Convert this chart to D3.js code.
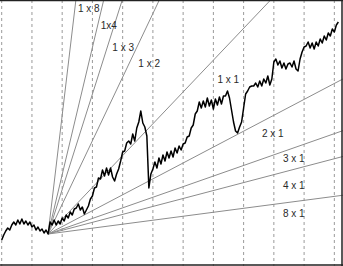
<!DOCTYPE html>
<html>
<head>
<style type="text/css">
	body{ margin:0; background:#fff; }
	#chart{ width:343px; height:266px; }
	.lbl{ font-family:"Liberation Sans", Arial, sans-serif; font-size:10px; fill:#2a2a2a; }
</style>
</head>
<body>
<div id="chart"></div>
<script src="https://cdn.jsdelivr.net/npm/d3@7"></script>
<script>
	// closing prices, one per bar
	var price = [
		2.6, 3.1, 3.5, 3.8, 3.6, 4.1, 4.4, 4.1, 4.6, 4.2, 4.7, 4.2, 4.5, 4.1, 4.4, 3.9, 4.1, 3.6, 3.9, 3.5, 3.7, 3.3, 3.6, 3.2,
		4.4, 4.1, 4.6, 4.1, 4.5, 4.2, 4.8, 4.5, 5.1, 4.8, 5.4, 5.1, 5.7, 5.8, 6.2, 5.6, 5.9, 5.2, 5.6, 6.0, 6.7, 7.0, 7.8, 7.9,
		8.8, 8.7, 9.6, 9.0, 9.8, 9.1, 9.8, 8.9, 8.5, 9.2, 9.7, 10.5, 11.4, 11.5, 12.3, 12.5, 12.2, 13.2, 12.5, 13.8, 14.4, 15.5,
		14.3, 13.9, 13.0, 7.8, 9.2, 9.7, 10.4, 9.8, 10.8, 10.2, 11.1, 10.5, 11.4, 10.8, 11.5, 10.9, 11.8, 11.3, 12.0, 11.6,
		12.2, 12.3, 12.9, 13.0, 13.8, 14.1, 15.2, 15.5, 16.4, 15.8, 16.5, 15.9, 16.8, 16.0, 16.6, 15.7, 16.7, 16.1, 16.9, 16.2,
		17.0, 17.0, 17.5, 16.8, 15.6, 14.4, 13.5, 13.3, 13.9, 14.4, 15.8, 17.2, 17.5, 17.9, 18.0, 18.0, 18.3, 17.9, 18.5, 18.0,
		18.7, 18.3, 19.0, 18.1, 18.7, 20.4, 20.7, 20.1, 20.5, 19.8, 20.3, 19.7, 20.2, 20.3, 19.9, 20.5, 19.7, 19.5, 20.7, 21.4,
		21.9, 22.0, 22.4, 21.8, 22.3, 21.7, 22.4, 22.0, 22.7, 22.3, 23.0, 22.6, 23.3, 23.0, 23.7, 23.4, 24.1, 24.4
	];

	// gann fan
	var pivotBar = 23;
	var pivotPrice = 3.2;
	var fanUnit = 0.212;	// price per bar for 1 x 1
	var fanNames = ['1 x 8', '1x4', '1 x 3', '1 x 2', '1 x 1', '2 x 1', '3 x 1', '4 x 1', '8 x 1'];
	var fanRatios = [8, 4, 3, 2, 1, 1/2, 1/3, 1/4, 1/8];

	var gridBars = [0, 15, 30, 45, 60, 75, 90, 105, 120, 135, 150, 165];

	var W = 343, H = 266;

	var x = d3.scaleLinear().domain([0, 169]).range([1.7, 342.4]);
	var y = d3.scaleLinear().domain([0, 26.6]).range([H, 0]);

	var svg = d3.select('#chart').append('svg')
		.attr('width', W).attr('height', H);

	svg.append('clipPath').attr('id', 'clip')
		.append('rect').attr('x', 0).attr('y', 0).attr('width', W).attr('height', H);

	var g = svg.append('g').attr('clip-path', 'url(#clip)');

	g.selectAll('.grid')
		.data(gridBars)
		.enter().append('line')
		.attr('class', 'grid')
		.attr('x1', function(d){ return x(d); })
		.attr('x2', function(d){ return x(d); })
		.attr('y1', 0)
		.attr('y2', H)
		.style('stroke', '#9a9a9a')
		.style('stroke-width', 1)
		.style('stroke-dasharray', '3,3');

	var endBar = pivotBar + 400;
	g.selectAll('.fan')
		.data(fanRatios)
		.enter().append('line')
		.attr('class', 'fan')
		.attr('x1', x(pivotBar))
		.attr('y1', y(pivotPrice))
		.attr('x2', x(endBar))
		.attr('y2', function(r){ return y(pivotPrice + fanUnit * r * (endBar - pivotBar)); })
		.style('stroke', '#8c8c8c')
		.style('stroke-width', 1);

	var line = d3.line()
		.x(function(d, i){ return x(i); })
		.y(function(d){ return y(d); });

	g.append('path')
		.datum(price)
		.attr('d', line)
		.style('fill', 'none')
		.style('stroke', '#000')
		.style('stroke-width', 1.5)
		.style('stroke-linejoin', 'round');

	// label placement: steep lines are labelled at a pixel height, flat ones at a pixel x
	var labelAt = [
		{ py: 8, dx: 3 }, { py: 25, dx: 3 }, { py: 47, dx: 5 }, { py: 63, dx: 9 }, { py: 79, dx: 22 },
		{ px: 262, dy: 17 }, { px: 283, dy: 10 }, { px: 283, dy: 16 }, { px: 283, dy: 12 }
	];
	function fanX(r, py){
		var p = y.invert(py);
		return x(pivotBar + (p - pivotPrice) / (fanUnit * r));
	}
	function fanY(r, px){
		var b = x.invert(px);
		return y(pivotPrice + fanUnit * r * (b - pivotBar));
	}
	g.selectAll('.lbl')
		.data(fanNames)
		.enter().append('text')
		.attr('class', 'lbl')
		.attr('x', function(d, i){
			var a = labelAt[i];
			return a.py !== undefined ? fanX(fanRatios[i], a.py) + a.dx : a.px;
		})
		.attr('y', function(d, i){
			var a = labelAt[i];
			return a.py !== undefined ? a.py : fanY(fanRatios[i], a.px + 10) + a.dy;
		})
		.attr('dy', '0.35em')
		.text(function(d){ return d; });

	// frame
	svg.append('line').attr('x1', 0).attr('x2', W).attr('y1', 0.5).attr('y2', 0.5)
		.style('stroke', '#222').style('stroke-width', 1.5);
	svg.append('line').attr('x1', W - 1).attr('x2', W - 1).attr('y1', 0).attr('y2', H)
		.style('stroke', '#222').style('stroke-width', 1.5);
	svg.append('line').attr('x1', 0).attr('x2', W).attr('y1', H - 1).attr('y2', H - 1)
		.style('stroke', '#222').style('stroke-width', 1.5);
</script>
</body>
</html>
